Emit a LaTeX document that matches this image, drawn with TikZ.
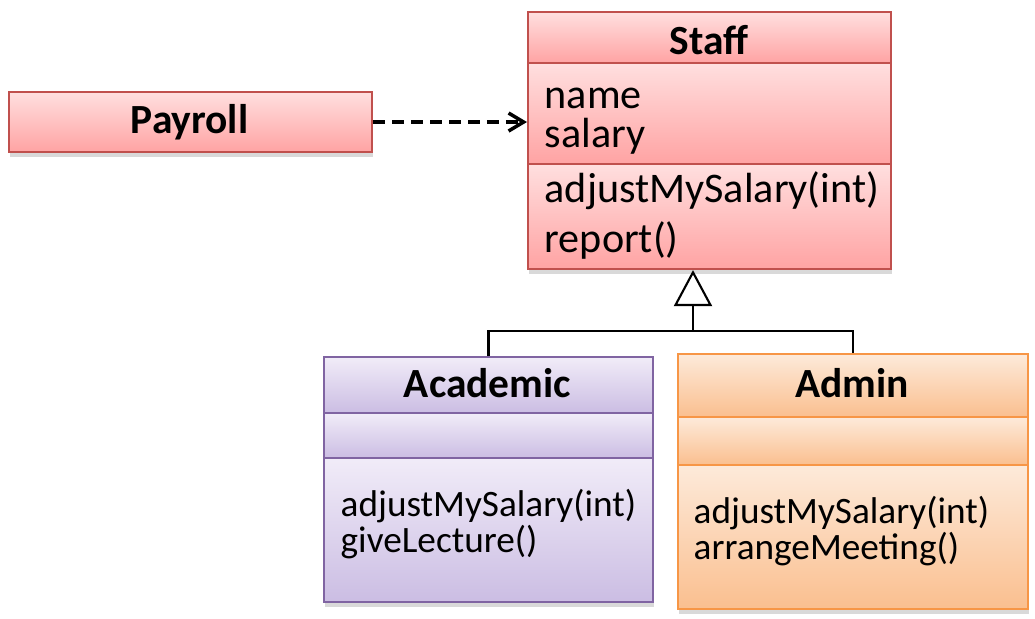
\documentclass[tikz,border=0pt]{standalone}
\usepackage{fontspec}
\setmainfont{Carlito}
\usepackage{xcolor}
\usepackage{tikz}
\usetikzlibrary{positioning,calc,arrows.meta,shadows}

\definecolor{staffline}{RGB}{192,80,77}
\definecolor{stafftop}{RGB}{255,223,223}
\definecolor{staffbot}{RGB}{255,163,163}
\definecolor{acadline}{RGB}{128,100,162}
\definecolor{acadtop}{RGB}{241,236,248}
\definecolor{acadbot}{RGB}{203,189,227}
\definecolor{adminline}{RGB}{247,150,70}
\definecolor{admintop}{RGB}{253,234,218}
\definecolor{adminbot}{RGB}{250,191,143}

\tikzset{
  part/.style={rectangle, line width=0.6pt, inner sep=0pt, anchor=north west,
    drop shadow={shadow xshift=0.4pt, shadow yshift=-1.4pt, opacity=0.3}},
  staffpart/.style={part, draw=staffline, top color=stafftop, bottom color=staffbot},
  acadpart/.style={part, draw=acadline, top color=acadtop, bottom color=acadbot},
  adminpart/.style={part, draw=adminline, top color=admintop, bottom color=adminbot},
  title/.style={inner sep=0pt, anchor=base, font=\fontsize{11.8}{14}\selectfont\bfseries},
  member/.style={inner sep=0pt, anchor=base west, font=\fontsize{12}{14}\selectfont},
  smallmember/.style={inner sep=0pt, anchor=base west, font=\fontsize{10.6}{13}\selectfont}
}

\begin{document}
\begin{tikzpicture}[x=1cm,y=-1cm]
  \useasboundingbox (0,0) rectangle (10.35,6.19);
  % Staff
  \node[staffpart, minimum width=3.63cm, minimum height=0.51cm] (staffT) at (5.27,0.11) {};
  \node[staffpart, minimum width=3.63cm, minimum height=1.01cm] (staffA) at (5.27,0.62) {};
  \node[staffpart, minimum width=3.63cm, minimum height=1.05cm] (staffM) at (5.27,1.63) {};
  \node[title] (staffname) at (7.09,0.55) {Staff};
  \node[member] (sname) at (5.44,1.09) {name};
  \node[member] (ssalary) at (5.44,1.48) {salary};
  \node[member] (sadjust) at (5.44,2.03) {adjustMySalary(int)};
  \node[member] (sreport) at (5.44,2.53) {report()};
  % Payroll
  \node[staffpart, minimum width=3.63cm, minimum height=0.60cm] (payroll) at (0.08,0.91) {};
  \node[title] (payrollname) at (1.895,1.34) {Payroll};
  % Academic
  \node[acadpart, minimum width=3.29cm, minimum height=0.56cm] (acadT) at (3.23,3.56) {};
  \node[acadpart, minimum width=3.29cm, minimum height=0.45cm] (acadA) at (3.23,4.12) {};
  \node[acadpart, minimum width=3.29cm, minimum height=1.44cm] (acadM) at (3.23,4.57) {};
  \node[title] (acadname) at (4.875,3.98) {Academic};
  \node[smallmember] (aadjust) at (3.40,5.17) {adjustMySalary(int)};
  \node[smallmember] (alecture) at (3.40,5.53) {giveLecture()};
  % Admin
  \node[adminpart, minimum width=3.50cm, minimum height=0.63cm] (adminT) at (6.77,3.53) {};
  \node[adminpart, minimum width=3.50cm, minimum height=0.48cm] (adminA) at (6.77,4.16) {};
  \node[adminpart, minimum width=3.50cm, minimum height=1.44cm] (adminM) at (6.77,4.64) {};
  \node[title] (adminname) at (8.52,3.98) {Admin};
  \node[smallmember] (madjust) at (6.93,5.24) {adjustMySalary(int)};
  \node[smallmember] (mmeeting) at (6.93,5.60) {arrangeMeeting()};
  % connectors
  \draw[line width=1pt, dash pattern=on 3.4pt off 2pt, -{Straight Barb[length=0.15cm,width=0.18cm]}]
    (payroll.east) -- (payroll.east -| staffA.west);
  \coordinate (joint) at (6.93,3.31);
  \draw[line width=0.6pt] (acadT.north) |- (joint) -| (adminT.north);
  \draw[line width=0.6pt, -{Triangle[open,length=0.36cm,width=0.38cm]}]
    (joint) -- (joint |- staffM.south);
\end{tikzpicture}
\end{document}
